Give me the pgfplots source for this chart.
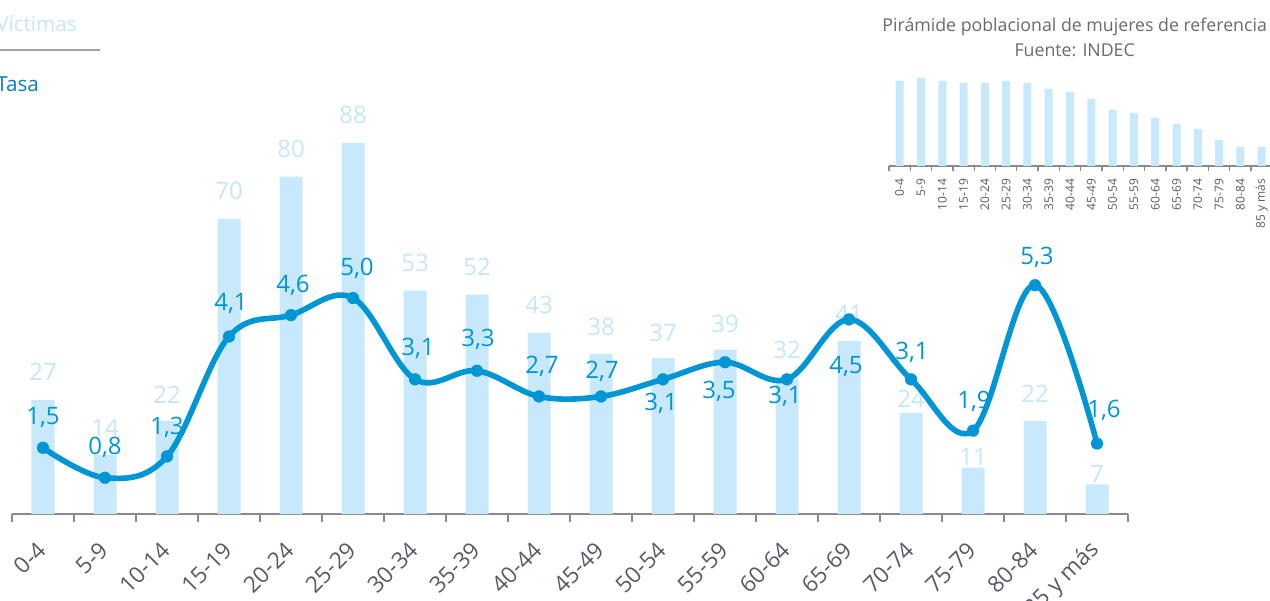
\documentclass[border=0pt]{standalone}
\usepackage{fontspec}
\setmainfont{Open Sans}
\usepackage{pgfplots}
\pgfplotsset{compat=1.18}
\usepackage{pgfplotstable}

\definecolor{barc}{HTML}{C8E9FB}
\definecolor{barlab}{HTML}{C6E6FA}
\definecolor{linec}{HTML}{0096D6}
\definecolor{tasac}{HTML}{0A7DC2}
\definecolor{axc}{HTML}{8A8A8A}
\definecolor{tickc}{HTML}{555B66}
\definecolor{titc}{HTML}{6A6A6A}

\pgfplotstableread{
x v dy
0 27 28
1 14 27
2 22 26
3 70 28
4 80 28
5 88 28
6 53 28
7 52 28
8 43 28
9 38 27
10 37 25
11 39 26
12 32 29
13 41 27
14 24 14
15 11 11
16 22 27
17 7 11
}\victimas

\pgfplotstableread{
x t dy dx
0 1.5 30 0
1 0.8 30 0
2 1.3 29 0
3 4.1 33 2
4 4.6 30 2
5 5.0 30 4
6 3.1 31 3
7 3.3 31 1
8 2.7 30 3
9 2.7 25 1
10 3.1 -24 -2
11 3.5 -29 -6
12 3.1 -17 -2
13 4.5 -47 -3
14 3.1 27 1
15 1.9 29 1
16 5.3 28 2
17 1.6 33 7
}\tasa

\pgfplotstableread{
x p
0 85
1 88
2 85
3 83
4 83
5 85
6 83
7 77
8 74
9 67
10 56
11 53
12 48
13 42
14 37
15 26
16 19
17 19
}\piramide

\begin{document}
\begin{tikzpicture}
\path[use as bounding box] (0,0) rectangle (952.5pt,450pt);

% Bars: victimas
\begin{axis}[
  at={(9pt,64.5pt)}, anchor=south west, scale only axis,
  width=837pt, height=385.5pt,
  xmin=-0.5, xmax=17.5, ymin=0, ymax=121.9,
  ybar, bar width=17.25pt,
  axis y line=none, axis x line*=bottom,
  x axis line style={-, draw=axc, line width=1.5pt},
  xtick={0,...,17},
  xticklabels={0-4,5-9,10-14,15-19,20-24,25-29,30-34,35-39,40-44,45-49,50-54,55-59,60-64,65-69,70-74,75-79,80-84,85 y más},
  major tick length=0pt,
  minor xtick={-0.5,0.5,...,17.5},
  minor tick length=6pt,
  tick align=outside,
  minor x tick style={draw=axc, line width=1.5pt},
  xticklabel style={xshift=1.5pt, yshift=-22pt, rotate=45, anchor=east, text=tickc, font=\fontsize{17}{17}\selectfont},
  clip=false,
  /pgf/number format/assume math mode=true,
]
\addplot[fill=barc, draw=none,
  point meta=explicit,
  visualization depends on={\thisrow{dy} \as \bdy},
  nodes near coords,
  nodes near coords style={anchor=center, yshift=\bdy*0.75pt, text=barlab, font=\fontsize{18}{18}\selectfont},
] table[x=x, y=v, meta=v] {\victimas};
\end{axis}

% Line: tasa
\begin{axis}[
  at={(9pt,64.5pt)}, anchor=south west, scale only axis,
  width=837pt, height=385.5pt,
  xmin=-0.5, xmax=17.5, ymin=-0.0467, ymax=11.963,
  hide axis, clip=false,
  /pgf/number format/use comma,
  /pgf/number format/fixed,
  /pgf/number format/fixed zerofill,
  /pgf/number format/precision=1,
  /pgf/number format/assume math mode=true,
]
\addplot[linec, line width=4.2pt, smooth, tension=0.6,
  mark=*, mark size=4.5pt, mark options={solid, fill=linec, draw=linec, line width=0.1pt},
  point meta=explicit,
  visualization depends on={\thisrow{dy} \as \dy},
  visualization depends on={\thisrow{dx} \as \dx},
  nodes near coords,
  nodes near coords style={anchor=center, yshift=\dy*0.75pt, xshift=\dx*0.75pt, text=linec, font=\fontsize{18}{18}\selectfont},
] table[x=x, y=t, meta=t] {\tasa};
\end{axis}

% Inset: piramide poblacional
\begin{axis}[
  at={(666.75pt,325.5pt)}, anchor=south west, scale only axis,
  width=287.5pt, height=75pt,
  xmin=-0.5, xmax=17.5, ymin=0, ymax=100,
  ybar, bar width=6pt,
  axis y line=none, axis x line*=bottom,
  x axis line style={-, draw=axc, line width=1pt},
  xtick={0,...,17},
  xticklabels={0-4,5-9,10-14,15-19,20-24,25-29,30-34,35-39,40-44,45-49,50-54,55-59,60-64,65-69,70-74,75-79,80-84,85 y más},
  major tick length=0pt,
  minor xtick={-0.5,0.5,...,17.5},
  minor tick length=4pt,
  tick align=outside,
  minor x tick style={draw=axc, line width=1pt},
  xticklabel style={yshift=-6pt, rotate=90, anchor=east, text=tickc, font=\fontsize{9}{9}\selectfont},
  clip=false,
]
\addplot[fill=barc, draw=none] table[x=x, y=p] {\piramide};
\end{axis}

% legend
\node[anchor=base west, inner sep=0pt, text=barlab, font=\fontsize{15.5}{15.5}\selectfont] at (-3pt,426pt) {Víctimas};
\draw[draw=axc!80, line width=0.8pt] (0pt,412.5pt) -- (75pt,412.5pt);
\node[anchor=base west, inner sep=0pt, text=tasac, font=\fontsize{15.5}{15.5}\selectfont] at (-3pt,381pt) {Tasa};

% inset title
\node[align=center, text=titc, font=\fontsize{13.3}{18.75}\selectfont] at (806pt,422pt) {Pirámide poblacional de mujeres de referencia\\Fuente: INDEC};
\end{tikzpicture}
\end{document}
